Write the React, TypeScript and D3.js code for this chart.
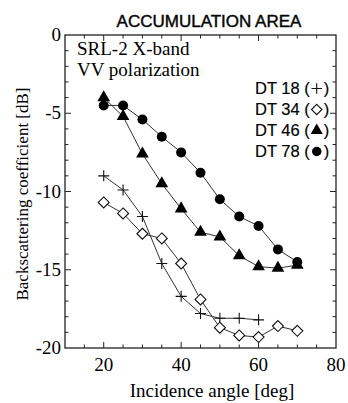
import React, { useEffect, useRef } from 'react';
import * as d3 from 'd3';

// incidence angles [deg]
const angles = [20, 25, 30, 35, 40, 45, 50, 55, 60, 65, 70];
// backscattering coefficient [dB] per snow pit
const dt18 = [-9.0, -9.9, -11.6, -14.6, -16.7, -17.8, -18.1, -18.1, -18.2];
const dt34 = [-10.7, -11.4, -12.7, -13.0, -14.6, -16.9, -18.7, -19.2, -19.3, -18.6, -18.9];
const dt46 = [-4.0, -5.2, -7.6, -9.5, -11.1, -12.6, -12.9, -14.1, -14.8, -14.9, -14.7];
const dt78 = [-4.5, -4.5, -5.4, -6.5, -7.5, -8.8, -10.5, -11.6, -12.2, -13.7, -14.5];

const xTicks = [20, 40, 60, 80];
const yTicks = [0, -5, -10, -15, -20];
const seriesNames = ['DT 18', 'DT 34', 'DT 46', 'DT 78'];
const symbols = ['plus', 'diamond', 'triangle', 'circle'];

const SERIF = '"Liberation Serif", "Times New Roman", serif';
const SANS = '"Liberation Sans", Arial, sans-serif';

// draw one marker into a group centred at 0,0
const drawMarker = (sel, symbol, s = 1) => {
  if (symbol === 'plus') {
    sel.append('path').attr('d', `M${-5.5 * s},0H${5.5 * s}M0,${-5.5 * s}V${5.5 * s}`)
      .attr('stroke', '#111').attr('stroke-width', 1.1);
  } else if (symbol === 'diamond') {
    sel.append('path').attr('d', `M0,${-5.5 * s}L${5.5 * s},0L0,${5.5 * s}L${-5.5 * s},0Z`)
      .attr('fill', 'white').attr('stroke', '#111').attr('stroke-width', 1.1);
  } else if (symbol === 'triangle') {
    sel.append('path').attr('d', d3.symbol(d3.symbolTriangle, 70 * s * s)())
      .attr('fill', '#000');
  } else {
    sel.append('circle').attr('r', 5 * s).attr('fill', '#000');
  }
};

const Chart = () => {
  const svgRef = useRef(null);

  useEffect(() => {
    const width = 348;
    const height = 403;
    const left = 65, right = 336, top = 35, bottom = 348;

    const svg = d3.select(svgRef.current).attr('width', width).attr('height', height);
    svg.selectAll('*').remove();

    const x = d3.scaleLinear().domain([10, 80]).range([left, right]);
    const y = d3.scaleLinear().domain([-20, 0]).range([bottom, top]);

    // frame
    svg.append('rect')
      .attr('x', left).attr('y', top)
      .attr('width', right - left).attr('height', bottom - top)
      .attr('fill', 'none').attr('stroke', '#222').attr('stroke-width', 1.3);

    // ticks (inward), minor every 5 deg / 1 dB
    const g = svg.append('g').attr('stroke', '#222').attr('stroke-width', 1);
    d3.range(15, 80, 5).forEach((v) => {
      const len = v % 20 === 0 ? 6 : 3.5;
      g.append('line').attr('x1', x(v)).attr('x2', x(v)).attr('y1', bottom).attr('y2', bottom - len);
      g.append('line').attr('x1', x(v)).attr('x2', x(v)).attr('y1', top).attr('y2', top + len);
    });
    d3.range(-19, 0, 1).forEach((v) => {
      const len = v % 5 === 0 ? 6 : 3.5;
      g.append('line').attr('x1', left).attr('x2', left + len).attr('y1', y(v)).attr('y2', y(v));
      g.append('line').attr('x1', right).attr('x2', right - len).attr('y1', y(v)).attr('y2', y(v));
    });

    // tick labels
    svg.selectAll('.xt').data(xTicks).enter().append('text')
      .attr('x', (d) => x(d)).attr('y', bottom + 23)
      .attr('text-anchor', 'middle')
      .attr('font-family', SERIF).attr('font-size', 19)
      .text((d) => d);
    svg.selectAll('.yt').data(yTicks).enter().append('text')
      .attr('x', left - 4).attr('y', (d) => y(d) + 6)
      .attr('text-anchor', 'end')
      .attr('font-family', SERIF).attr('font-size', 19)
      .text((d) => d);

    // axis titles
    svg.append('text')
      .attr('x', 212).attr('y', 397)
      .attr('text-anchor', 'middle')
      .attr('font-family', SERIF).attr('font-size', 19)
      .text('Incidence angle [deg]');
    svg.append('text')
      .attr('transform', `translate(28,194) rotate(-90)`)
      .attr('text-anchor', 'middle')
      .attr('font-family', SERIF).attr('font-size', 17)
      .text('Backscattering coefficient [dB]');

    // chart title
    svg.append('text')
      .attr('x', 209).attr('y', 27)
      .attr('text-anchor', 'middle')
      .attr('font-family', SANS).attr('font-size', 17)
      .attr('stroke', '#111').attr('stroke-width', 0.45)
      .text('ACCUMULATION AREA');

    // annotation
    svg.append('text')
      .attr('x', 77).attr('y', 55)
      .attr('font-family', SERIF).attr('font-size', 19)
      .text('SRL-2 X-band');
    svg.append('text')
      .attr('x', 77).attr('y', 76)
      .attr('font-family', SERIF).attr('font-size', 19)
      .text('VV polarization');

    // legend: "DT nn (" + marker + ")"
    seriesNames.forEach((name, i) => {
      const ly = 94 + i * 21;
      const t = svg.append('text')
        .attr('x', 255).attr('y', ly)
        .attr('font-family', SANS).attr('font-size', 16.5)
        .attr('stroke', '#111').attr('stroke-width', 0.2)
        .text(`${name} (`);
      const w = t.node().getComputedTextLength();
      const cx = 255 + w + 7;
      drawMarker(svg.append('g').attr('transform', `translate(${cx},${ly - 5.5})`), symbols[i], 0.95);
      svg.append('text')
        .attr('x', cx + 7).attr('y', ly)
        .attr('font-family', SANS).attr('font-size', 16.5)
        .attr('stroke', '#111').attr('stroke-width', 0.2)
        .text(')');
    });

    const line = d3.line()
      .x((d) => x(d[0]))
      .y((d) => y(d[1]));

    [dt18, dt34, dt46, dt78].forEach((values, si) => {
      const pts = values.map((v, i) => [angles[i], v]);
      svg.append('path')
        .attr('d', line(pts))
        .attr('fill', 'none')
        .attr('stroke', '#333')
        .attr('stroke-width', 1);

      svg.append('g').selectAll('g').data(pts).enter().append('g')
        .attr('transform', (d) => `translate(${x(d[0])},${y(d[1])})`)
        .each(function () { drawMarker(d3.select(this), symbols[si]); });
    });
  }, []);

  return <svg ref={svgRef} style={{ position: 'absolute', left: 0, top: 0, background: 'white' }}></svg>;
};

export default function App() {
  return <Chart />;
}
